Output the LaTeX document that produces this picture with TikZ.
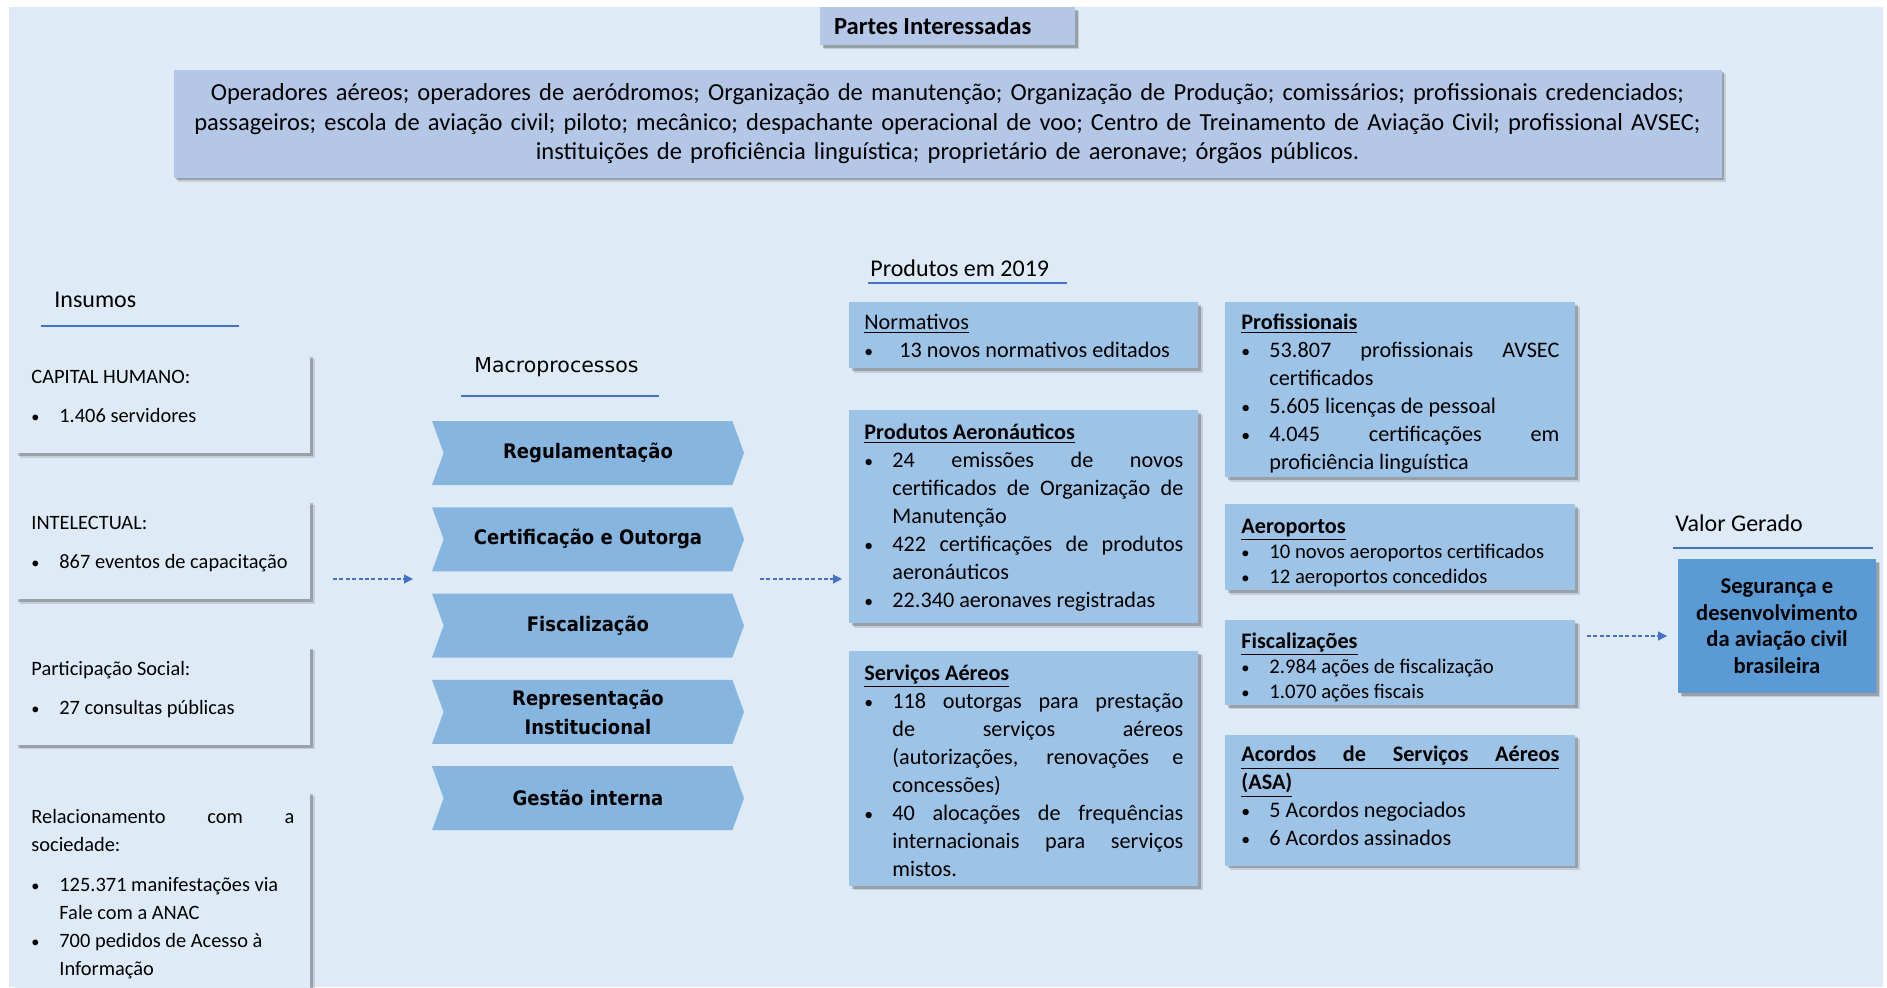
\documentclass[tikz,border=0pt]{standalone}
\usepackage{fontspec}
\usepackage{graphicx}
\setmainfont{Carlito}
\newfontfamily\verdfont{DejaVu Sans}
\newfontfamily\chevfont[FakeStretch=0.9]{DejaVu Sans}
\usetikzlibrary{positioning}
\usetikzlibrary{shapes.symbols}
\usetikzlibrary{shadows}
\usetikzlibrary{arrows.meta}
\definecolor{bgblue}{HTML}{DEEBF7}
\definecolor{periblue}{HTML}{B4C7E7}
\definecolor{prodblue}{HTML}{9DC3E6}
\definecolor{chevblue}{HTML}{86B6E0}
\definecolor{valblue}{HTML}{5B9BD5}
\definecolor{lineblue}{HTML}{4472C4}
\hyphenpenalty=10000
\exhyphenpenalty=10000
\newcommand{\bitem}[2][14pt]{\par\noindent\hangindent=#1\hangafter=1\makebox[#1][l]{\scalebox{0.8}{\textbullet}}#2}

\begin{document}
\begin{tikzpicture}[x=0.5pt,y=-0.5pt,
	shadowed/.style={general shadow={shadow xshift=2.2pt,shadow yshift=-2.2pt,opacity=.12,fill=black},general shadow={shadow xshift=1.3pt,shadow yshift=-1.3pt,opacity=.22,fill=black}},
	topbox/.style={shadowed,fill=periblue,inner sep=2pt},
	insbox/.style={shadowed,fill=bgblue,inner xsep=8pt,inner ysep=0pt,text width=131.5pt,align=justify,text height=14.5pt,text depth=35pt,font=\fontsize{10.2}{14}\selectfont},
	prodbox/.style={shadowed,fill=prodblue,inner xsep=7.5pt,inner ysep=0pt,text width=159.5pt,align=justify,font=\fontsize{11.1}{14}\selectfont},
	macbox/.style={signal,signal from=west,signal to=east,signal pointer angle=140,fill=chevblue,minimum width=156pt,minimum height=32pt,inner sep=0pt,align=center,font=\chevfont\bfseries\fontsize{10}{14.5}\selectfont},
	valbox/.style={shadowed,fill=valblue,minimum width=99pt,minimum height=67pt,inner sep=2pt,align=center,font=\bfseries\fontsize{11.3}{13.3}\selectfont},
	head/.style={anchor=west,inner sep=0pt,font=\fontsize{12}{14}\selectfont},
	headrule/.style={draw=lineblue,line width=0.75pt},
	flow/.style={lineblue,line width=0.6pt,dash pattern=on 2pt off 1.2pt,-{Triangle[length=4.5pt,width=4.5pt]}}]
	\useasboundingbox (0,0) rectangle (1887,987);
	\clip (0,0) rectangle (1887,987);
	\fill[bgblue] (9,7) rectangle (1883,987);

	% stakeholders
	\node[topbox,minimum width=127.5pt,minimum height=19pt,inner xsep=7pt,font=\bfseries\fontsize{12.3}{14}\selectfont] (partes) at (947.5,26) {\makebox[113.5pt][l]{Partes Interessadas}};
	\node[topbox,below=12pt of partes,minimum width=774pt,minimum height=54pt,text width=770pt,align=center,font=\fontsize{12.25}{14.75}\selectfont] (stake) {Operadores aéreos; operadores de aeródromos; Organização de manutenção; Organização de Produção; comissários; profissionais credenciados;\\ passageiros; escola de aviação civil; piloto; mecânico; despachante operacional de voo; Centro de Treinamento de Aviação Civil; profissional AVSEC;\\ instituições de proficiência linguística; proprietário de aeronave; órgãos públicos.};

	% headings
	\node[head] (insumos) at (54,300) {Insumos}; \draw[headrule] (41,326) -- (239,326);
	\node[head,font=\verdfont\fontsize{10.25}{12}\selectfont] (macro) at (474,367) {Macroprocessos}; \draw[headrule] (461,396) -- (659,396);
	\node[head] (produtos) at (870,268) {Produtos em 2019}; \draw[headrule] (868,283) -- (1067,283);
	\node[head] (valor) at (1675,523) {Valor Gerado}; \draw[headrule] (1673,548) -- (1873,548);

	% insumos
	\node[insbox,anchor=north west] (ins1) at (15,354) {CAPITAL HUMANO:\par\vspace{5.5pt}\bitem{1.406 servidores}\par};
	\node[insbox,below=23pt of ins1.south west,anchor=north west] (ins2) {INTELECTUAL:\par\vspace{5.5pt}\bitem{867 eventos de capacitação}\par};
	\node[insbox,below=23pt of ins2.south west,anchor=north west] (ins3) {Participação Social:\par\vspace{5.5pt}\bitem{27 consultas públicas}\par};
	\node[insbox,below=23pt of ins3.south west,anchor=north west,text height=16pt,text depth=86pt] (ins4) {Relacionamento com a\linebreak sociedade:\par\vspace{6pt}\bitem{125.371 manifestações via\newline Fale com a ANAC}\bitem{700 pedidos de Acesso à\newline Informação}\par};

	% macroprocessos
	\node[macbox] (mac1) at (588,453) {Regulamentação};
	\node[macbox,below=10.75pt of mac1] (mac2) {Certificação e Outorga};
	\node[macbox,below=10.75pt of mac2] (mac3) {Fiscalização};
	\node[macbox,below=10.75pt of mac3] (mac4) {Representação\\ Institucional};
	\node[macbox,below=10.75pt of mac4] (mac5) {Gestão interna};

	% produtos, first column
	\node[prodbox,anchor=north west,text height=13.5pt,text depth=19.5pt] (norm) at (849,302) {\underline{Normativos}\bitem[17.5pt]{\mbox{13 novos normativos editados}}\par};
	\node[prodbox,below=20.5pt of norm.south west,anchor=north west,text height=14.5pt,text depth=92pt] (aero) {\textbf{\underline{Produtos Aeronáuticos}}\bitem{24 emissões de novos\linebreak certificados de Organização de\linebreak Manutenção}\bitem{422 certificações de produtos\linebreak aeronáuticos}\bitem{22.340 aeronaves registradas}\par};
	\node[prodbox,below=13.5pt of aero.south west,anchor=north west,text height=14.5pt,text depth=103pt] (serv) {\textbf{\underline{Serviços Aéreos}}\bitem{118 outorgas para prestação\linebreak de serviços aéreos\linebreak (autorizações, renovações e\linebreak concessões)}\bitem{40 alocações de frequências\linebreak internacionais para serviços\linebreak mistos.}\par};

	% produtos, second column
	\node[prodbox,anchor=north west,inner xsep=8pt,text width=159pt,text height=13.5pt,text depth=74pt] (prof) at (1225,302) {\textbf{\underline{Profissionais}}\bitem{53.807 profissionais AVSEC\linebreak certificados}\bitem{5.605 licenças de pessoal}\bitem{4.045 certificações em\linebreak proficiência linguística}\par};
	\node[prodbox,below=13pt of prof.south west,anchor=north west,inner xsep=8pt,text width=159pt,text height=14.5pt,text depth=28.5pt] (aerop) {\textbf{\underline{Aeroportos}}\par\fontsize{10.35}{12.5}\selectfont\bitem{10 novos aeroportos certificados}\bitem{12 aeroportos concedidos}\par};
	\node[prodbox,below=14.5pt of aerop.south west,anchor=north west,inner xsep=8pt,text width=159pt,text height=14pt,text depth=28.5pt] (fisc) {\textbf{\underline{Fiscalizações}}\par\fontsize{10.35}{12.5}\selectfont\bitem{2.984 ações de fiscalização}\bitem{1.070 ações fiscais}\par};
	\node[prodbox,below=14.5pt of fisc.south west,anchor=north west,inner xsep=8pt,text width=159pt,text height=13.5pt,text depth=52pt] (asa) {{\bfseries\underline{\makebox[\linewidth]{Acordos\hfill de\hfill Serviços\hfill Aéreos}}\par\underline{(ASA)}}\bitem{5 Acordos negociados}\bitem{6 Acordos assinados}\par};

	% valor gerado
	\node[valbox] (val) at (1777,626) {Segurança e\\ desenvolvimento\\ da aviação civil\\ brasileira};

	% fluxo
	\coordinate (insout) at (333,579); \coordinate (macin) at (413,579);
	\coordinate (macout) at (760,579); \coordinate (prodin) at (842,579);
	\coordinate (prodout) at (1587,636); \coordinate (valin) at (1667,636);
	\draw[flow] (insout) -- (macin); \draw[flow] (macout) -- (prodin); \draw[flow] (prodout) -- (valin);
\end{tikzpicture}
\end{document}
